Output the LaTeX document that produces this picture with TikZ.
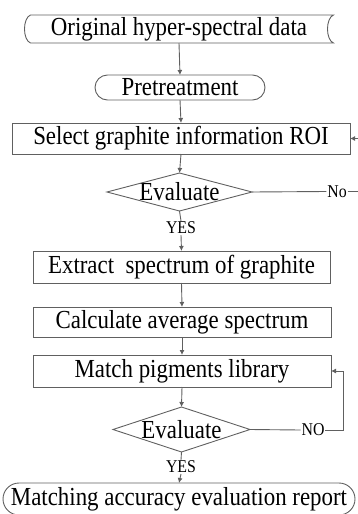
\documentclass[tikz,border=0pt]{standalone}
\usepackage{fontspec}
\setmainfont[FakeStretch=0.88]{Liberation Serif}
\usetikzlibrary{arrows.meta}
\definecolor{ln}{HTML}{606060}
\begin{document}
\begin{tikzpicture}[x=1pt,y=-1pt,
  every node/.style={inner sep=0pt, outer sep=0pt, text=black},
  big/.style={font=\fontsize{26}{28}\selectfont},
  lbl/.style={font=\fontsize{18}{20}\selectfont, inner sep=1pt},
  frame/.style={draw=ln, line width=0.9pt},
  conn/.style={draw=ln, line width=0.9pt},
  arr/.style={conn, -{Latex[length=5pt,width=5pt]}}]
\useasboundingbox (0,0) rectangle (358,514);
% nodes
\node[big, minimum width=309pt, minimum height=28pt] (n1) at (179,29) {Original hyper-spectral data};
\draw[frame] ([xshift=6pt]n1.north west) -- (n1.north east)
  .. controls ([xshift=-8pt,yshift=11pt]n1.east) and ([xshift=-8pt,yshift=-11pt]n1.east) .. (n1.south east)
  -- ([xshift=6pt]n1.south west)
  .. controls ([xshift=-2pt,yshift=-11pt]n1.west) and ([xshift=-2pt,yshift=11pt]n1.west) .. ([xshift=6pt]n1.north west) -- cycle;
\node[big, frame, rounded corners=12.5pt, minimum width=170pt, minimum height=25pt] (n2) at (180,87.5) {Pretreatment};
\node[big, frame, minimum width=338pt, minimum height=31pt] (n3) at (181,138.5) {Select graphite information ROI};
\node[big, minimum width=145pt, minimum height=38pt] (d1) at (179.5,192) {Evaluate};
\draw[frame] (d1.west) -- (d1.north) -- (d1.east) -- (d1.south) -- cycle;
\node[lbl] (no1) at (337,191.5) {No};
\node[lbl] (yes1) at (181,228) {YES};
\node[big, frame, minimum width=297pt, minimum height=32pt] (n4) at (181.5,267) {Extract~~spectrum of graphite};
\node[big, frame, minimum width=298pt, minimum height=30pt] (n5) at (182,322) {Calculate average spectrum};
\node[big, frame, minimum width=298pt, minimum height=32pt] (n6) at (182,371) {Match pigments library};
\node[big, minimum width=137pt, minimum height=45pt] (d2) at (181.5,429.5) {Evaluate};
\draw[frame] (d2.west) -- (d2.north) -- (d2.east) -- (d2.south) -- cycle;
\node[lbl] (no2) at (313,430) {NO};
\node[lbl] (yes2) at (181,467) {YES};
\node[big, frame, rounded corners=16pt, minimum width=352pt, minimum height=32pt] (n7) at (179,499) {Matching accuracy evaluation report};
\coordinate (r1) at (360,191.5);
\coordinate (r2) at (343,430);
% connectors
\draw[arr] (n1.south) -- (n2.north);
\draw[arr] (n2.south) -- (n3.north);
\draw[arr] (n3.south) -- (d1.north);
\draw[conn] (d1.east) -- (no1.west);
\draw[arr] (no1.east) -- (r1) |- (n3.east);
\draw[conn] (d1.south) -- (yes1.north);
\draw[arr] (yes1.south) -- (n4.north);
\draw[arr] (n4.south) -- (n5.north);
\draw[arr] (n5.south) -- (n6.north);
\draw[arr] (n6.south) -- (d2.north);
\draw[conn] (d2.east) -- (no2.west);
\draw[arr] (no2.east) -- (r2) |- (n6.east);
\draw[conn] (d2.south) -- (yes2.north);
\draw[arr] (yes2.south) -- (n7.north);
\end{tikzpicture}
\end{document}
